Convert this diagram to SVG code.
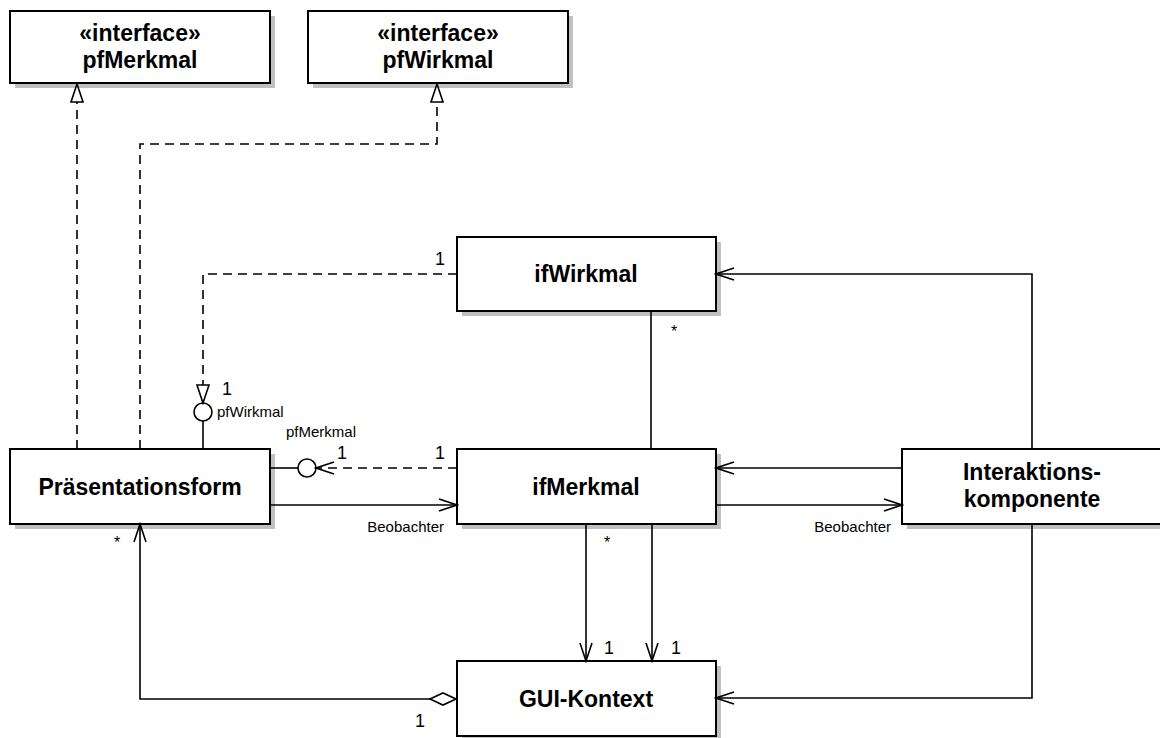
<svg xmlns="http://www.w3.org/2000/svg" width="1160" height="738" viewBox="0 0 1160 738">
  <style>
    .shadow { fill: #c0c0c0; stroke: none; }
    .box { fill: #ffffff; stroke: #000000; stroke-width: 2; }
    .name { font-family: "Liberation Sans", Arial, sans-serif; font-weight: bold; font-size: 23px; text-anchor: middle; fill: #000; }
    .label { font-family: "Liberation Sans", Arial, sans-serif; font-size: 15px; fill: #000; }
    .mult { font-family: "Liberation Sans", Arial, sans-serif; font-size: 18px; fill: #000; }
    .star { font-family: "Liberation Sans", Arial, sans-serif; font-size: 16px; fill: #000; }
    .line { fill: none; stroke: #000; stroke-width: 1.6; }
    .dash { fill: none; stroke: #000; stroke-width: 1.6; stroke-dasharray: 9 6; }
  </style>
  <defs>
    <marker id="open" markerUnits="userSpaceOnUse" markerWidth="22" markerHeight="16" viewBox="-20 -8 22 16" refX="0" refY="0" orient="auto">
      <path d="M-18,-6 L0,0 L-18,6" fill="none" stroke="#000" stroke-width="1.6" stroke-dasharray="none"/>
    </marker>
    <marker id="tri" markerUnits="userSpaceOnUse" markerWidth="22" markerHeight="16" viewBox="-20 -8 22 16" refX="0" refY="0" orient="auto">
      <path d="M-18,-6 L0,0 L-18,6 Z" fill="#fff" stroke="#000" stroke-width="1.6" stroke-dasharray="none"/>
    </marker>
  </defs>

  <!-- interface pfMerkmal -->
  <g id="pfMerkmal">
    <rect class="shadow" x="15" y="16" width="260" height="72"/>
    <rect class="box" x="10" y="11" width="260" height="72"/>
    <text class="name" x="140" y="41">«interface»</text>
    <text class="name" x="140" y="68">pfMerkmal</text>
  </g>

  <!-- interface pfWirkmal -->
  <g id="pfWirkmal">
    <rect class="shadow" x="313" y="16" width="260" height="72"/>
    <rect class="box" x="308" y="11" width="260" height="72"/>
    <text class="name" x="438" y="41">«interface»</text>
    <text class="name" x="438" y="68">pfWirkmal</text>
  </g>

  <g id="ifWirkmal">
    <rect class="shadow" x="462" y="242" width="259" height="74"/>
    <rect class="box" x="457" y="237" width="259" height="74"/>
    <text class="name" x="586" y="282">ifWirkmal</text>
  </g>

  <g id="Praesentationsform">
    <rect class="shadow" x="15" y="454" width="260" height="75"/>
    <rect class="box" x="10" y="449" width="260" height="75"/>
    <text class="name" x="140" y="495">Präsentationsform</text>
  </g>

  <g id="ifMerkmal">
    <rect class="shadow" x="462" y="454" width="259" height="75"/>
    <rect class="box" x="457" y="449" width="259" height="75"/>
    <text class="name" x="586" y="495">ifMerkmal</text>
  </g>

  <g id="Interaktionskomponente">
    <rect class="shadow" x="907" y="454" width="260" height="75"/>
    <rect class="box" x="902" y="449" width="260" height="75"/>
    <text class="name" x="1032" y="480">Interaktions-</text>
    <text class="name" x="1032" y="507">komponente</text>
  </g>

  <g id="GUI-Kontext">
    <rect class="shadow" x="462" y="666" width="259" height="75"/>
    <rect class="box" x="457" y="661" width="259" height="75"/>
    <text class="name" x="586" y="707">GUI-Kontext</text>
  </g>

  <g id="connectors">
    <!-- realizations of the interfaces -->
    <path class="dash" d="M77 449 V84" marker-end="url(#tri)"/>
    <path class="dash" d="M140 449 V144 H437 V84" marker-end="url(#tri)"/>

    <!-- provided interface pfWirkmal (lollipop) -->
    <path class="line" d="M203 449 V421"/>
    <circle cx="203" cy="412" r="9" fill="#fff" stroke="#000" stroke-width="1.6"/>
    <path class="dash" d="M457 274 H203 V403" marker-end="url(#tri)"/>
    <text class="label" x="217" y="417">pfWirkmal</text>
    <text class="mult" x="222" y="395">1</text>
    <text class="mult" x="435" y="265">1</text>

    <!-- provided interface pfMerkmal (lollipop) -->
    <path class="line" d="M270 468 H298"/>
    <circle cx="307" cy="468" r="9" fill="#fff" stroke="#000" stroke-width="1.6"/>
    <path class="dash" d="M457 468 H316" marker-end="url(#open)"/>
    <text class="label" x="286" y="437">pfMerkmal</text>
    <text class="mult" x="337" y="459">1</text>
    <text class="mult" x="435" y="459">1</text>

    <!-- observer: Präsentationsform -> ifMerkmal -->
    <path class="line" d="M270 505 H457" marker-end="url(#open)"/>
    <text class="label" x="444" y="532" text-anchor="end">Beobachter</text>

    <!-- ifWirkmal - ifMerkmal -->
    <path class="line" d="M651 311 V449"/>
    <text class="star" x="671" y="337">*</text>

    <!-- Interaktionskomponente associations -->
    <path class="line" d="M1032 449 V274 H716" marker-end="url(#open)"/>
    <path class="line" d="M902 468 H716" marker-end="url(#open)"/>
    <path class="line" d="M716 505 H902" marker-end="url(#open)"/>
    <text class="label" x="891" y="532" text-anchor="end">Beobachter</text>
    <path class="line" d="M1032 524 V698 H716" marker-end="url(#open)"/>

    <!-- ifMerkmal -> GUI-Kontext -->
    <path class="line" d="M586 524 V661" marker-end="url(#open)"/>
    <path class="line" d="M652 524 V661" marker-end="url(#open)"/>
    <text class="star" x="604" y="548">*</text>
    <text class="mult" x="604" y="654">1</text>
    <text class="mult" x="671" y="654">1</text>

    <!-- aggregation GUI-Kontext <>- Präsentationsform -->
    <polygon points="456,699 443,693 430,699 443,705" fill="#fff" stroke="#000" stroke-width="1.6"/>
    <path class="line" d="M430 699 H140 V524" marker-end="url(#open)"/>
    <text class="star" x="114" y="548">*</text>
    <text class="mult" x="415" y="727">1</text>
  </g>
</svg>
